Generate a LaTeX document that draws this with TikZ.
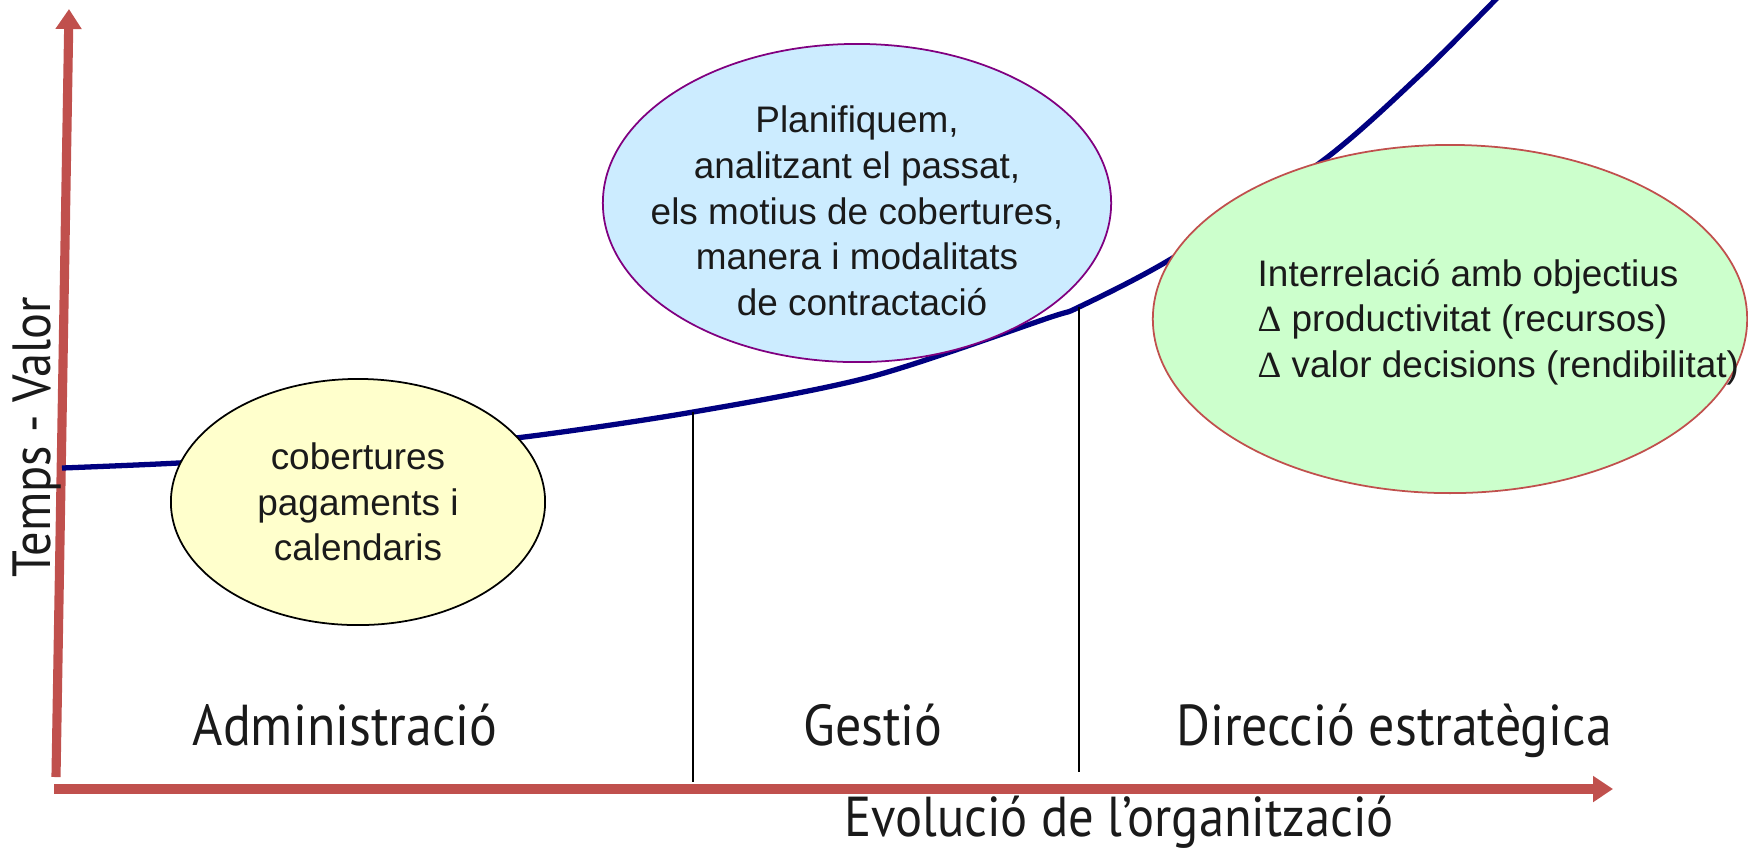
\documentclass[tikz,border=0pt]{standalone}
\usepackage{fontspec}
\setmainfont{Liberation Sans}
\newfontfamily\myr[FakeStretch=0.9]{PT Sans}
\newfontfamily\dser{Liberation Serif}
\usetikzlibrary{arrows.meta,shapes.geometric}
\definecolor{axisred}{HTML}{C0504D}
\definecolor{curveblue}{HTML}{000080}
\definecolor{yel}{HTML}{FFFFCC}
\definecolor{lblue}{HTML}{CCECFF}
\definecolor{lgreen}{HTML}{CCFFCC}
\definecolor{purp}{HTML}{800080}
\definecolor{txt}{HTML}{1A1A1A}
\tikzset{
  axisline/.style={draw=axisred, line width=2.6pt, -{Triangle[length=0.2cm,width=0.25cm]}},
  bubble/.style={ellipse, inner sep=0pt, line width=0.5pt},
  bubbletext/.style={font=\fontsize{10.5}{13}\selectfont, text=txt, inner sep=0pt},
  phase/.style={font=\myr\fontsize{16.4}{18}\selectfont, text=txt, anchor=base, inner sep=0pt},
  divider/.style={draw=black, line width=0.5pt},
}
\begin{document}
\begin{tikzpicture}[x=0.01cm,y=-0.01cm]
\useasboundingbox (0,0) rectangle (1748,850);
% axes
\coordinate (yb) at (56,777);
\coordinate (yt) at (69,9);
\coordinate (xl) at (54,789);
\coordinate (xr) at (1613,789);
\draw[axisline] (yb) -- (yt);
\draw[axisline] (xl) -- (xr);
% curve
\draw[curveblue, line width=1.5pt] plot[smooth, tension=0.5] coordinates {(62,468) (178,463) (300,455) (420,445) (524,437) (693,412) (870,377) (1048,318) (1079,307) (1171,259) (1321,162) (1420,75) (1500,-5)};
\coordinate (g1) at (693,412);
\coordinate (g2) at (693,782);
\coordinate (d1) at (1079,307);
\coordinate (d2) at (1079,772);
\draw[divider] (g1) -- (g2);
\draw[divider] (d1) -- (d2);
% bubbles
\node[bubble, draw=black, fill=yel, minimum width=3.74cm, minimum height=2.46cm] (yel) at (358,502) {};
\node[bubbletext, align=center] (yeltext) at (yel.center) {cobertures\\pagaments i\\calendaris};
\node[bubble, draw=purp, fill=lblue, minimum width=5.08cm, minimum height=3.18cm] (blu) at (857,203) {};
\node[bubbletext, align=center] (blutext) at (857,211) {Planifiquem,\\analitzant el passat,\\els motius de cobertures,\\manera i modalitats\\\ de contractació};
\node[bubble, draw=axisred, fill=lgreen, minimum width=5.94cm, minimum height=3.48cm] (grn) at (1450,319) {};
\node[bubbletext, align=left, anchor=west] (grntext) at (1257,322) {Interrelació amb objectius\\{\dser Δ} productivitat (recursos)\\{\dser Δ} valor decisions (rendibilitat)};
% labels
\node[phase] (adm) at (345,745) {Administració};
\node[phase] (ges) at (873,745) {Gestió};
\node[phase] (dir) at (1394,745) {Direcció estratègica};
\node[phase, font=\myr\fontsize{16}{18}\selectfont] (evo) at (1119,836) {Evolució de l’organització};
\node[phase, rotate=90, font=\myr\fontsize{15.3}{18}\selectfont] (tv) at (51,437) {Temps - Valor};
\end{tikzpicture}
\end{document}
